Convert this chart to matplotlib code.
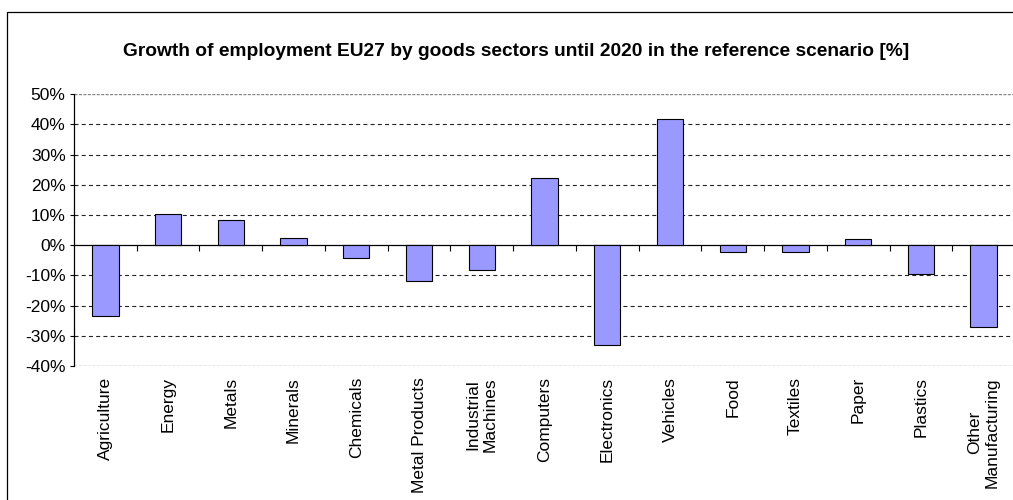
import matplotlib
matplotlib.use("Agg")
import matplotlib.pyplot as plt
from matplotlib.patches import Rectangle
from matplotlib.ticker import FuncFormatter
import numpy as np

plt.rcParams['font.family'] = ['Liberation Sans', 'DejaVu Sans']

sectors = ['Agriculture', 'Energy', 'Metals', 'Minerals', 'Chemicals',
           'Metal Products', 'Industrial\nMachines', 'Computers', 'Electronics',
           'Vehicles', 'Food', 'Textiles', 'Paper', 'Plastics',
           'Other\nManufacturing']
growth = [-23.4, 10.5, 8.5, 2.4, -4.1, -11.7, -8.1, 22.2, -33.2, 41.9,
          -2.1, -2.4, 2.0, -9.6, -27.0]
yticks = [-40, -30, -20, -10, 0, 10, 20, 30, 40, 50]

fig = plt.figure(figsize=(10.13, 5.0), dpi=100)

# outer chart frame
fig.patches.append(Rectangle((7 / 1013, -0.1), 1.1, 0.1 + (500 - 12) / 500,
                             transform=fig.transFigure, fill=False,
                             edgecolor='black', linewidth=0.9))

ax = fig.add_axes([74 / 1013, 1 - 366 / 500, 941 / 1013, (366 - 94.3) / 500])

x = np.arange(len(sectors))
ax.bar(x, growth, width=0.42, color='#9999FF', edgecolor='black',
       linewidth=0.8, zorder=3)

ax.set_xlim(-0.5, len(sectors) - 0.5)
ax.set_ylim(-40, 50)
ax.set_yticks(yticks)
ax.yaxis.set_major_formatter(FuncFormatter(lambda v, p: f'{v:.0f}%'))

# dashed grid lines
for v in yticks[1:-1]:
    if v != 0:
        ax.axhline(v, color='#222222', linewidth=0.8,
                   linestyle=(0, (3.6, 2.9)), zorder=1)
ax.axhline(50, color='#888888', linewidth=1.0, linestyle=(0, (2.2, 1.0)), zorder=1)
ax.axhline(-40, color='#888888', linewidth=1.0, linestyle=(0, (2.2, 1.0)), zorder=1)

for s in ['top', 'right', 'bottom']:
    ax.spines[s].set_visible(False)
ax.spines['left'].set_linewidth(0.9)

ax.tick_params(axis='y', direction='out', length=3, width=0.8, labelsize=12.5,
               pad=3)
ax.set_xticks(x)
ax.set_xticklabels(sectors, rotation=90, fontsize=12.5, va='top', ha='center',
                   multialignment='center')
ax.tick_params(axis='x', length=0, pad=8)

# zero axis with category boundary ticks
zax = ax.secondary_xaxis(40 / 90)
zax.set_xticks(np.arange(0.5, len(sectors) - 0.5, 1.0))
zax.tick_params(axis='x', direction='out', length=4, width=0.8,
                labelbottom=False, labeltop=False, top=False, bottom=True)
zax.spines['bottom'].set_linewidth(0.9)
zax.spines['top'].set_visible(False)

fig.text(516 / 1013, 1 - 52 / 500,
         'Growth of employment EU27 by goods sectors until 2020 in the reference scenario [%]',
         ha='center', va='center', fontsize=13.8, fontweight='bold')

fig.savefig('out.png', dpi=100)
